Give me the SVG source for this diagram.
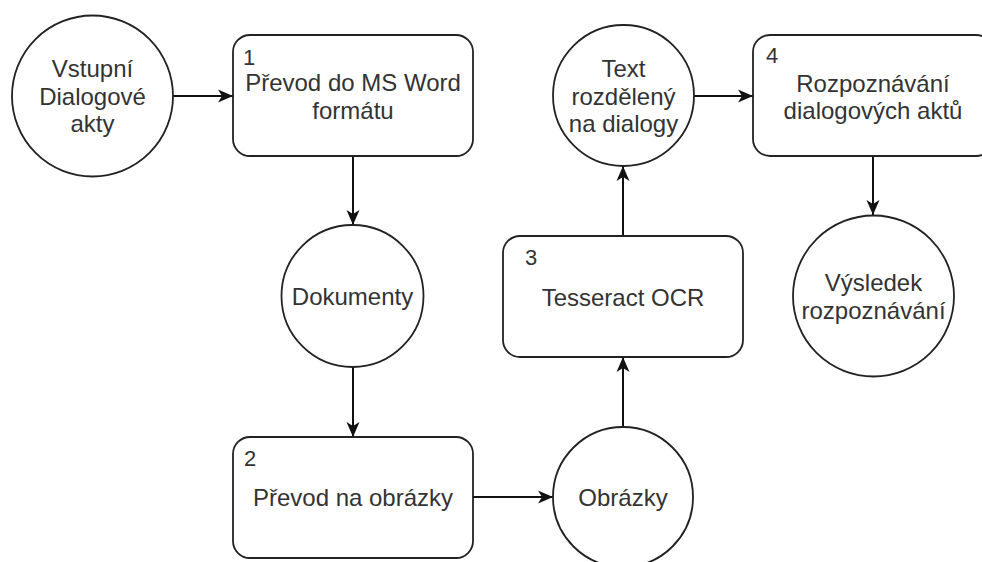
<svg xmlns="http://www.w3.org/2000/svg" width="982" height="562" viewBox="0 0 982 562">
  <defs>
    <style>
      .shape { fill: #ffffff; stroke: #222222; stroke-width: 1.8; }
      .edge { fill: none; stroke: #111111; stroke-width: 2; }
      .lbl { font-family: "Liberation Sans", Arial, sans-serif; font-size: 24px; fill: #333333; text-anchor: middle; }
      .num { font-family: "Liberation Sans", Arial, sans-serif; font-size: 22px; fill: #333333; }
    </style>
    <marker id="arrow" markerUnits="userSpaceOnUse" markerWidth="16" markerHeight="14" refX="15" refY="7" orient="auto">
      <path d="M0,0.5 L15,7 L0,13.5 L4,7 Z" fill="#111111"/>
    </marker>
  </defs>

  <rect width="982" height="562" fill="#ffffff"/>

  <!-- connectors -->
  <g id="connectors">
    <line class="edge" x1="173" y1="96" x2="233" y2="96" marker-end="url(#arrow)"/>
    <line class="edge" x1="353" y1="156" x2="353" y2="225" marker-end="url(#arrow)"/>
    <line class="edge" x1="353" y1="367" x2="353" y2="437" marker-end="url(#arrow)"/>
    <line class="edge" x1="473" y1="497" x2="553" y2="497" marker-end="url(#arrow)"/>
    <line class="edge" x1="623" y1="427" x2="623" y2="357" marker-end="url(#arrow)"/>
    <line class="edge" x1="623" y1="236" x2="623" y2="166" marker-end="url(#arrow)"/>
    <line class="edge" x1="694" y1="96" x2="753" y2="96" marker-end="url(#arrow)"/>
    <line class="edge" x1="873" y1="156" x2="873" y2="215" marker-end="url(#arrow)"/>
  </g>

  <!-- input store -->
  <g id="vstupni">
    <circle class="shape" cx="92.5" cy="96" r="80.5"/>
    <text class="lbl" x="92.5" y="77">Vstupní</text>
    <text class="lbl" x="92.5" y="104.5">Dialogové</text>
    <text class="lbl" x="92.5" y="132">akty</text>
  </g>

  <!-- process 1 -->
  <g id="proces1">
    <rect class="shape" x="233" y="35" width="240" height="121" rx="17" ry="17"/>
    <text class="num" x="243" y="65">1</text>
    <text class="lbl" x="353" y="91">Převod do MS Word</text>
    <text class="lbl" x="353" y="119">formátu</text>
  </g>

  <!-- documents store -->
  <g id="dokumenty">
    <circle class="shape" cx="352.5" cy="296" r="71"/>
    <text class="lbl" x="352.5" y="304.5">Dokumenty</text>
  </g>

  <!-- process 2 -->
  <g id="proces2">
    <rect class="shape" x="233" y="437" width="240" height="121" rx="17" ry="17"/>
    <text class="num" x="244" y="466">2</text>
    <text class="lbl" x="353" y="506">Převod na obrázky</text>
  </g>

  <!-- images store -->
  <g id="obrazky">
    <circle class="shape" cx="623" cy="497" r="70"/>
    <text class="lbl" x="623" y="505.5">Obrázky</text>
  </g>

  <!-- process 3 -->
  <g id="proces3">
    <rect class="shape" x="503" y="236" width="240" height="121" rx="17" ry="17"/>
    <text class="num" x="525" y="265">3</text>
    <text class="lbl" x="623" y="306">Tesseract OCR</text>
  </g>

  <!-- split text store -->
  <g id="text-dialogy">
    <circle class="shape" cx="623.5" cy="95.5" r="70.5"/>
    <text class="lbl" x="623.5" y="77">Text</text>
    <text class="lbl" x="623.5" y="104.5">rozdělený</text>
    <text class="lbl" x="623.5" y="132">na dialogy</text>
  </g>

  <!-- process 4 -->
  <g id="proces4">
    <rect class="shape" x="753" y="35" width="240" height="121" rx="17" ry="17"/>
    <text class="num" x="766" y="63">4</text>
    <text class="lbl" x="873" y="92">Rozpoznávání</text>
    <text class="lbl" x="873" y="119">dialogových aktů</text>
  </g>

  <!-- result store -->
  <g id="vysledek">
    <circle class="shape" cx="873.5" cy="296" r="80.5"/>
    <text class="lbl" x="873.5" y="291">Výsledek</text>
    <text class="lbl" x="873.5" y="318.5">rozpoznávání</text>
  </g>
</svg>
